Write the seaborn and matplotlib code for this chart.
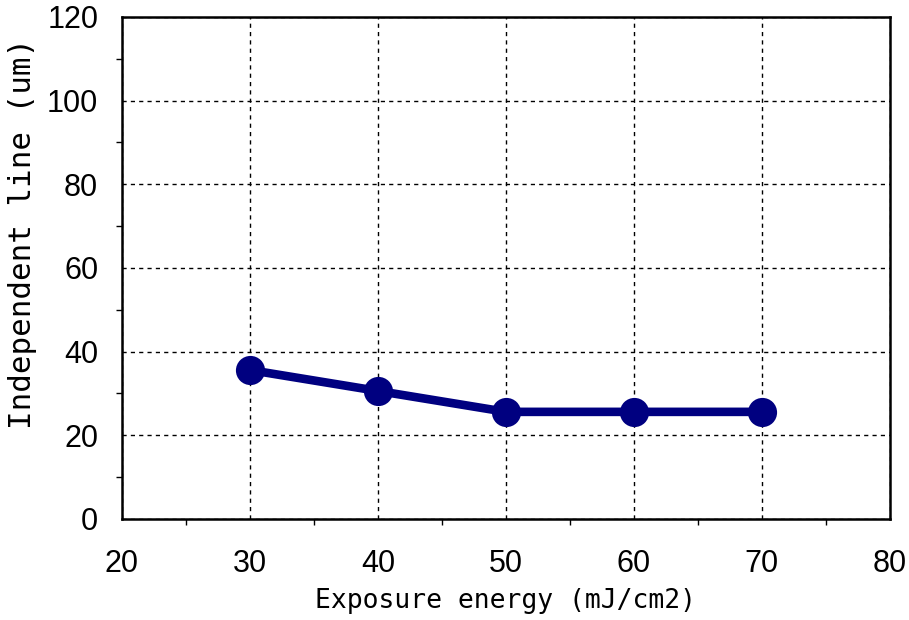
import matplotlib

matplotlib.use("Agg")

import matplotlib.pyplot as plt
import pandas as pd
import seaborn as sns
from matplotlib.ticker import MultipleLocator

energy = [30, 40, 50, 60, 70]
line_width_um = [35.6, 30.6, 25.6, 25.6, 25.6]
x_ticks = [20, 30, 40, 50, 60, 70, 80]
y_ticks = [0, 20, 40, 60, 80, 100, 120]

df = pd.DataFrame({"energy": energy, "line": line_width_um})

sns.set_theme(style="white")
plt.rcParams["font.family"] = ["Liberation Sans", "DejaVu Sans"]

fig = plt.figure(figsize=(9.09, 6.2), dpi=100)
ax = fig.add_axes([0.134, 0.163, 0.845, 0.8096])

sns.lineplot(data=df, x="energy", y="line", color="#000080", linewidth=6.2,
             marker="o", markersize=21, markeredgewidth=0, ax=ax, zorder=3)

ax.set_xlim(20, 80)
ax.set_ylim(0, 120)
ax.set_xticks(x_ticks)
ax.set_yticks(y_ticks)
ax.xaxis.set_minor_locator(MultipleLocator(5))
ax.yaxis.set_minor_locator(MultipleLocator(10))
ax.grid(True, which="major", color="black", linestyle=(0, (3, 3)), linewidth=1.0)
ax.set_axisbelow(True)

for s in ax.spines.values():
    s.set_visible(True)
    s.set_color("black")
    s.set_linewidth(1.8)

ax.tick_params(axis="both", which="major", direction="out", length=11, width=1.2,
               labelsize=22, color="black", labelcolor="black")
ax.tick_params(axis="x", which="major", pad=11)
ax.tick_params(axis="y", which="major", pad=6)
ax.tick_params(axis="both", which="minor", direction="out", length=4, width=1.0,
               color="black", bottom=True, left=True)

ax.set_xlabel("Exposure energy (mJ/cm2)", family="DejaVu Sans Mono", fontsize=19,
              color="black", labelpad=6)
ax.set_ylabel("Independent line (um)", family="DejaVu Sans Mono", fontsize=22.2,
              color="black")
ax.yaxis.set_label_coords(-0.110, 0.568)

fig.savefig("out.png", dpi=100)
